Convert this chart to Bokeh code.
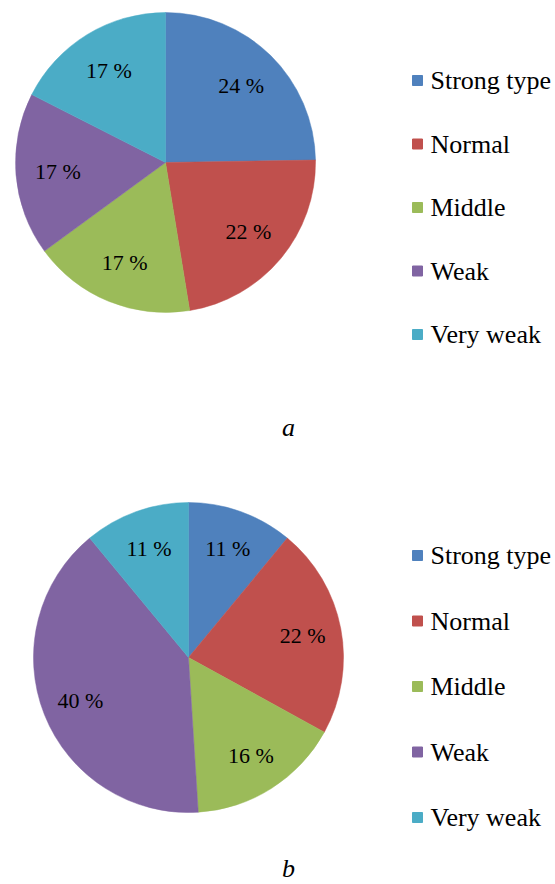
import numpy as np
from bokeh.plotting import figure
from bokeh.models import Range1d
from bokeh.core.properties import value
from bokeh.embed import file_html
from bokeh.resources import INLINE

categories = ["Strong type", "Normal", "Middle", "Weak", "Very weak"]
colors = ["#4F81BD", "#C0504D", "#9BBB59", "#8064A2", "#4BACC6"]
values_a = [24, 22, 17, 17, 17]
values_b = [11, 22, 16, 40, 11]
panel_labels = ["a", "b"]

W, H = 555, 884
p = figure(width=W, height=H, output_backend="svg", toolbar_location=None,
           x_range=Range1d(0, W), y_range=Range1d(0, H), min_border=0)
p.axis.visible = False
p.grid.visible = False
p.outline_line_color = None


def Y(y):
    return float(H - y)


texts_specs = []


def draw_panel(vals, cx, cy, r, lab_r, leg_x, leg_y0, leg_dy, tag, tag_x, tag_y):
    v = np.array(vals, dtype=float)
    frac = v / v.sum()
    c1 = np.cumsum(frac)
    c0 = c1 - frac
    start = [float(s) for s in (np.pi / 2 - 2 * np.pi * c1)]
    end = [float(e) for e in (np.pi / 2 - 2 * np.pi * c0)]
    for s, e, col in zip(start, end, colors):
        p.wedge(x=[float(cx)], y=[Y(cy)], radius=r, start_angle=s, end_angle=e,
                fill_color=col, line_color=col, line_width=0.5)
    mid = 2 * np.pi * (c0 + c1) / 2
    lx = [float(cx + lab_r * r * np.sin(m)) for m in mid]
    ly = [float(Y(cy) + lab_r * r * np.cos(m)) for m in mid]
    texts = [f"{int(x)} %" for x in vals]
    texts_specs.append(dict(x=lx, y=ly, text=texts, size="22px", align="center", style="normal"))
    ys = [Y(leg_y0 + i * leg_dy) for i in range(len(categories))]
    for yy, col in zip(ys, colors):
        p.rect(x=[float(leg_x)], y=[yy], width=10, height=10, fill_color=col, line_color=col)
    texts_specs.append(dict(x=[float(leg_x + 13)] * len(categories), y=ys, text=categories,
                            size="26px", align="left", style="normal"))
    texts_specs.append(dict(x=[float(tag_x)], y=[Y(tag_y)], text=[tag], size="26px",
                            align="center", style="italic"))


draw_panel(values_a, 165, 162, 150, 0.72, 417, 80, 63.5, panel_labels[0], 288, 427)
draw_panel(values_b, 188, 657, 155, 0.75, 417, 555, 65.5, panel_labels[1], 288, 868)

for t in texts_specs:
    p.text(x=t["x"], y=t["y"], text=t["text"], text_font=value("Liberation Serif"),
           text_font_size=t["size"], text_font_style=t["style"], text_align=t["align"],
           text_baseline="middle", text_color="black")

open("out.html", "w").write(file_html(p, INLINE))
